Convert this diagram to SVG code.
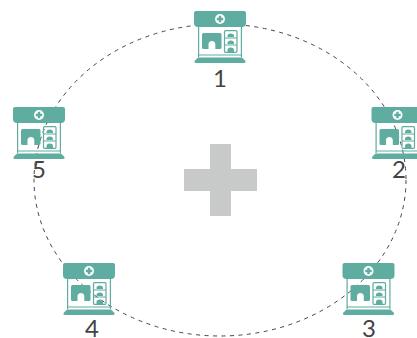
<svg xmlns="http://www.w3.org/2000/svg" width="417" height="338" viewBox="0 0 417 338">
<style>
.t{fill:#5fada0}.s{fill:none;stroke:#5fada0;stroke-width:1.2}.w{fill:#fff}
.l{font-family:Lato,"Liberation Sans",sans-serif;font-size:24px;fill:#444;text-anchor:middle}
</style>
<defs>
<g id="shop">
<path class="t" d="M2 0H50Q52 0 52 2V12Q52 16 48 16H4Q0 16 0 12V2Q0 0 2 0Z"/>
<circle class="w" cx="26" cy="8" r="5"/>
<path class="t" d="M24.800 4.800H27.200V6.800H29.200V9.200H27.200V11.200H24.800V9.200H22.800V6.800H24.800Z"/>
<path class="s" d="M4.600 16V46M47.400 16V46"/>
<rect class="t" x="8" y="22" width="19.500" height="16" rx="1.500"/>
<path class="w" d="M14.500 38V33.500A3.400 3.600 0 0 1 21.300 33.500V38Z"/>
<rect class="s" x="30.500" y="19.700" width="12.500" height="21.600" rx="1"/>
<path class="s" d="M30.500 27H43M30.500 34H43"/>
<path class="t" d="M33.500 26V25A3.200 2.500 0 0 1 40 25V26ZM33.500 33V32A3.200 2.500 0 0 1 40 32V33ZM33.500 41V39A3.200 2.500 0 0 1 40 39V41Z"/>
<path class="s" d="M4.600 44H47.400"/>
<path class="t" d="M4 46.500H48L51 49.500Q52.500 52 50 52H2Q-.5 52 1 49.500Z"/>
</g>
</defs>
<g id="connectors"><ellipse cx="220" cy="180" rx="186" ry="156" fill="none" stroke="#444" stroke-width="1" stroke-dasharray="4 4.500"/></g>
<g id="center"><path fill="#c8c9c9" d="M210 144H231V169H257V191H231V216H210V191H184V169H210Z"/></g>
<g id="node1"><use href="#shop" x="194" y="11"/><text class="l" x="220" y="87">1</text></g>
<g id="node2"><use href="#shop" x="371.500" y="107"/><text class="l" x="399" y="178">2</text></g>
<g id="node3"><use href="#shop" x="342.500" y="263"/><text class="l" x="369" y="336.500">3</text></g>
<g id="node4"><use href="#shop" x="63" y="263"/><text class="l" x="92" y="336.500">4</text></g>
<g id="node5"><use href="#shop" x="13" y="107"/><text class="l" x="39" y="178">5</text></g>
</svg>
